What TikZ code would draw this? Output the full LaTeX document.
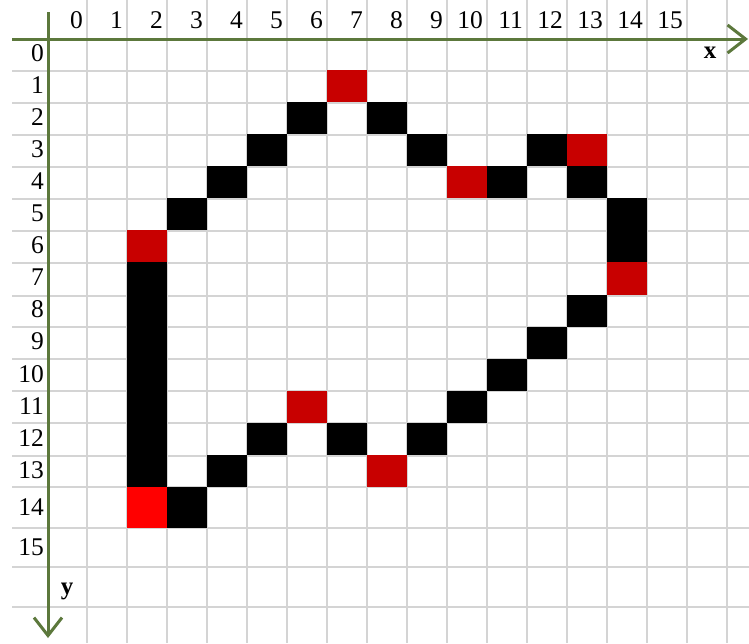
\documentclass[tikz,border=0pt]{standalone}
\usepackage{fontspec}
\setmainfont{Liberation Serif}
\usetikzlibrary{arrows.meta}
\definecolor{axisgreen}{RGB}{92,120,60}
\definecolor{gridgray}{RGB}{212,212,212}
\definecolor{cellred}{RGB}{200,0,0}
\definecolor{cellbright}{RGB}{255,0,0}
\begin{document}
\begin{tikzpicture}[x=1pt,y=-1pt,
  gridline/.style={draw=gridgray,line width=1.2pt},
  axisline/.style={draw=axisgreen,line width=3pt,-{Straight Barb[length=18pt,width=28pt]}},
  numlab/.style={font=\fontsize{25.5}{26}\selectfont,inner sep=0pt,anchor=east},
  axlab/.style={font=\fontsize{25}{25}\selectfont\bfseries,inner sep=0pt},
  cellbox/.style={fill=#1}]
\useasboundingbox (0,0) rectangle (749,643);
\fill[white] (0,0) rectangle (749,643);
% vertical grid lines
\foreach \k in {1,...,17} {
  \draw[gridline] (47+40*\k,0) -- (47+40*\k,643);
}
% horizontal grid lines
\foreach \y in {71,103,135,167,199,231,263,296,327,359,391,423,456,487,528,567,607} {
  \draw[gridline] (12,\y) -- (749,\y);
}
% cells
\foreach \c/\r/\col in {7/1/cellred,13/3/cellred,10/4/cellred,2/6/cellred,14/7/cellred,6/11/cellred,8/13/cellred,2/14/cellbright,
  6/2/black,8/2/black,5/3/black,9/3/black,12/3/black,4/4/black,11/4/black,13/4/black,3/5/black,14/5/black,14/6/black,
  2/7/black,2/8/black,2/9/black,2/10/black,2/11/black,2/12/black,2/13/black,
  13/8/black,12/9/black,11/10/black,10/11/black,5/12/black,7/12/black,9/12/black,4/13/black,3/14/black} {
  \pgfmathsetmacro\ytop{38+32.07*\r}
  \pgfmathsetmacro\ybot{\r==14 ? 528 : 38+32.07*(\r+1)}
  \fill[cellbox=\col] (47+40*\c,\ytop) rectangle (87+40*\c,\ybot);
}
% column labels
\foreach \c in {0,...,15} {
  \node[numlab] (cl\c) at (83+40*\c,20) {\c};
}
% row labels
\foreach \r in {0,...,13} {
  \pgfmathsetmacro\yc{38+32.07*(\r+0.5)-1}
  \node[numlab] (rl\r) at (44,\yc) {\r};
}
\node[numlab] (rl14) at (44,507) {14};
\node[numlab] (rl15) at (44,547) {15};
% axes
\coordinate (xo) at (12,39);
\coordinate (xe) at (748,39);
\coordinate (yo) at (48,12);
\coordinate (ye) at (48,638);
\draw[axisline] (xo) -- (xe);
\draw[axisline] (yo) -- (ye);
\node[axlab] (xlab) at (710,53) {x};
\node[axlab] (ylab) at (67,591) {y};
\end{tikzpicture}
\end{document}
